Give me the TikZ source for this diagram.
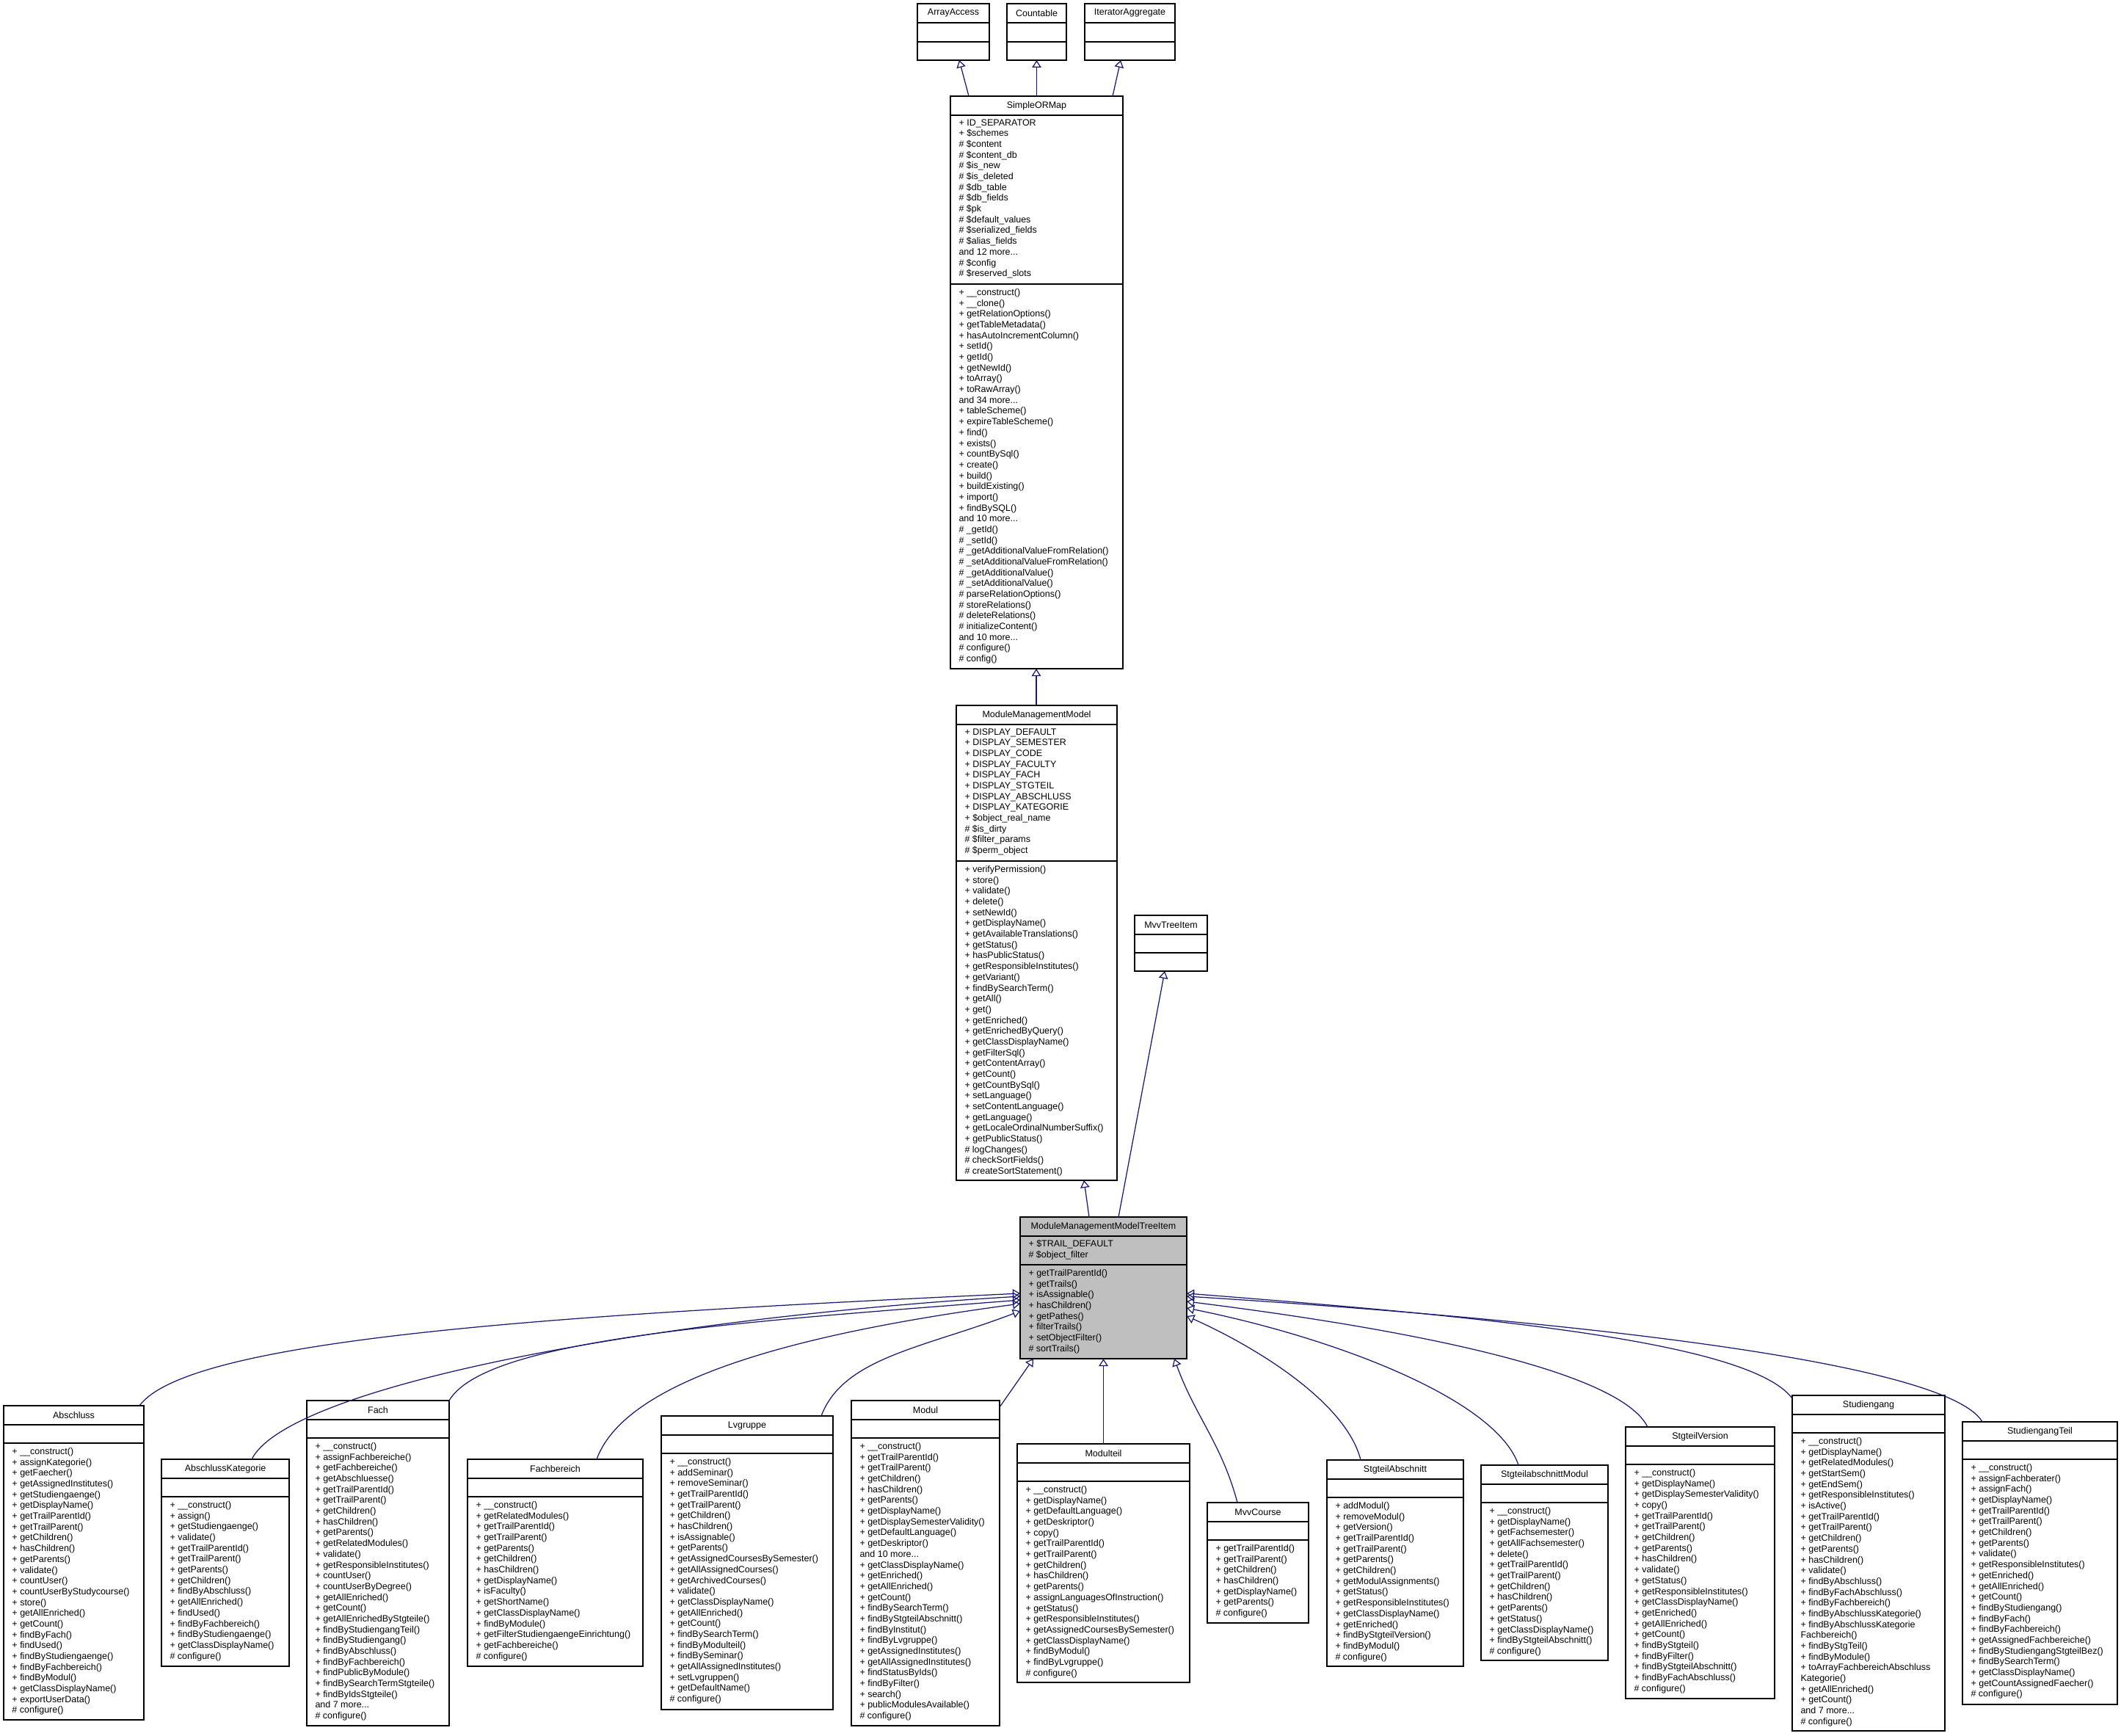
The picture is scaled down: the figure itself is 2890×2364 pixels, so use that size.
\documentclass[tikz,border=0pt]{standalone}
\usepackage{fontspec}
\setmainfont{Liberation Sans}
\usetikzlibrary{arrows.meta,calc}
\definecolor{edgeblue}{HTML}{191970}
\definecolor{hlgray}{HTML}{BFBFBF}
\tikzset{
  umlbox/.style={draw=black,line width=0.6pt,inner sep=0pt,outer sep=0pt},
  umltxt/.style={anchor=north west,align=left,inner sep=0pt,font=\fontsize{5}{5.87}\selectfont},
  umltitle/.style={inner sep=0pt,font=\fontsize{5}{5.87}\selectfont},
  inherit/.style={draw=edgeblue,line width=0.5pt,-{Triangle[open,length=4pt,width=5pt]}}
}
\newcommand\boxfill{white}
\newcommand\attrs{}
\newcommand\meths{}
% #1 name #2 x1 #3 y1 #4 x2 #5 y2 #6 y attr end #7 title
\newcommand\umlclass[7]{%
  \node[umlbox,fill=\boxfill,minimum width={(#4-#2)*0.4pt},minimum height={(#5-#3)*0.4pt},anchor=north west] (#1) at (#2,-#3) {};
  \node[umltitle] (#1-t) at ({(#2+#4)/2},{-#3-13}) {#7};
  \draw[line width=0.6pt] (#2,-#3-26) -- (#4,-#3-26);
  \draw[line width=0.6pt] (#2,-#6) -- (#4,-#6);
  \node[umltxt] (#1-a) at (#2+11,-#3-31) {\attrs};
  \node[umltxt] (#1-m) at (#2+11,-#6-6) {\meths};
}
\begin{document}
\begin{tikzpicture}[x=0.4pt,y=0.4pt]
\useasboundingbox (0,0) rectangle (2890,-2364);

\renewcommand\attrs{}\renewcommand\meths{}
\umlclass{ArrayAccess}{1250}{5}{1348}{82}{57}{ArrayAccess}
\umlclass{Countable}{1372}{5}{1453}{82}{57}{Countable}
\umlclass{IteratorAggregate}{1478}{5}{1601}{82}{57}{IteratorAggregate}
\umlclass{MvvTreeItem}{1546}{1247}{1645}{1323}{1298}{MvvTreeItem}

\renewcommand\attrs{+ ID\_SEPARATOR\\+ \$schemes\\\# \$content\\\# \$content\_db\\\# \$is\_new\\\# \$is\_deleted\\\# \$db\_table\\\# \$db\_fields\\\# \$pk\\\# \$default\_values\\\# \$serialized\_fields\\\# \$alias\_fields\\and 12 more...\\\# \$config\\\# \$reserved\_slots}
\renewcommand\meths{+ \_\_construct()\\+ \_\_clone()\\+ getRelationOptions()\\+ getTableMetadata()\\+ hasAutoIncrementColumn()\\+ setId()\\+ getId()\\+ getNewId()\\+ toArray()\\+ toRawArray()\\and 34 more...\\+ tableScheme()\\+ expireTableScheme()\\+ find()\\+ exists()\\+ countBySql()\\+ create()\\+ build()\\+ buildExisting()\\+ import()\\+ findBySQL()\\and 10 more...\\\# \_getId()\\\# \_setId()\\\# \_getAdditionalValueFromRelation()\\\# \_setAdditionalValueFromRelation()\\\# \_getAdditionalValue()\\\# \_setAdditionalValue()\\\# parseRelationOptions()\\\# storeRelations()\\\# deleteRelations()\\\# initializeContent()\\and 10 more...\\\# configure()\\\# config()}
\umlclass{SimpleORMap}{1295}{131}{1530}{911}{387}{SimpleORMap}

\renewcommand\attrs{+ DISPLAY\_DEFAULT\\+ DISPLAY\_SEMESTER\\+ DISPLAY\_CODE\\+ DISPLAY\_FACULTY\\+ DISPLAY\_FACH\\+ DISPLAY\_STGTEIL\\+ DISPLAY\_ABSCHLUSS\\+ DISPLAY\_KATEGORIE\\+ \$object\_real\_name\\\# \$is\_dirty\\\# \$filter\_params\\\# \$perm\_object}
\renewcommand\meths{+ verifyPermission()\\+ store()\\+ validate()\\+ delete()\\+ setNewId()\\+ getDisplayName()\\+ getAvailableTranslations()\\+ getStatus()\\+ hasPublicStatus()\\+ getResponsibleInstitutes()\\+ getVariant()\\+ findBySearchTerm()\\+ getAll()\\+ get()\\+ getEnriched()\\+ getEnrichedByQuery()\\+ getClassDisplayName()\\+ getFilterSql()\\+ getContentArray()\\+ getCount()\\+ getCountBySql()\\+ setLanguage()\\+ setContentLanguage()\\+ getLanguage()\\+ getLocaleOrdinalNumberSuffix()\\+ getPublicStatus()\\\# logChanges()\\\# checkSortFields()\\\# createSortStatement()}
\umlclass{ModuleManagementModel}{1303}{961}{1522}{1608}{1173}{ModuleManagementModel}

\renewcommand\boxfill{hlgray}
\renewcommand\attrs{+ \$TRAIL\_DEFAULT\\\# \$object\_filter}
\renewcommand\meths{+ getTrailParentId()\\+ getTrails()\\+ isAssignable()\\+ hasChildren()\\+ getPathes()\\+ filterTrails()\\+ setObjectFilter()\\\# sortTrails()}
\umlclass{TreeItem}{1390}{1658}{1617}{1851}{1723}{ModuleManagementModelTreeItem}
\renewcommand\boxfill{white}
\renewcommand\attrs{}

\renewcommand\meths{+ \_\_construct()\\+ assignKategorie()\\+ getFaecher()\\+ getAssignedInstitutes()\\+ getStudiengaenge()\\+ getDisplayName()\\+ getTrailParentId()\\+ getTrailParent()\\+ getChildren()\\+ hasChildren()\\+ getParents()\\+ validate()\\+ countUser()\\+ countUserByStudycourse()\\+ store()\\+ getAllEnriched()\\+ getCount()\\+ findByFach()\\+ findUsed()\\+ findByStudiengaenge()\\+ findByFachbereich()\\+ findByModul()\\+ getClassDisplayName()\\+ exportUserData()\\\# configure()}
\umlclass{Abschluss}{5}{1915}{196}{2343}{1966}{Abschluss}

\renewcommand\meths{+ \_\_construct()\\+ assign()\\+ getStudiengaenge()\\+ validate()\\+ getTrailParentId()\\+ getTrailParent()\\+ getParents()\\+ getChildren()\\+ findByAbschluss()\\+ getAllEnriched()\\+ findUsed()\\+ findByFachbereich()\\+ findByStudiengaenge()\\+ getClassDisplayName()\\\# configure()}
\umlclass{AbschlussKategorie}{220}{1988}{394}{2270}{2039}{AbschlussKategorie}

\renewcommand\meths{+ \_\_construct()\\+ assignFachbereiche()\\+ getFachbereiche()\\+ getAbschluesse()\\+ getTrailParentId()\\+ getTrailParent()\\+ getChildren()\\+ hasChildren()\\+ getParents()\\+ getRelatedModules()\\+ validate()\\+ getResponsibleInstitutes()\\+ countUser()\\+ countUserByDegree()\\+ getAllEnriched()\\+ getCount()\\+ getAllEnrichedByStgteile()\\+ findByStudiengangTeil()\\+ findByStudiengang()\\+ findByAbschluss()\\+ findByFachbereich()\\+ findPublicByModule()\\+ findBySearchTermStgteile()\\+ findByIdsStgteile()\\and 7 more...\\\# configure()}
\umlclass{Fach}{418}{1908}{612}{2351}{1959}{Fach}

\renewcommand\meths{+ \_\_construct()\\+ getRelatedModules()\\+ getTrailParentId()\\+ getTrailParent()\\+ getParents()\\+ getChildren()\\+ hasChildren()\\+ getDisplayName()\\+ isFaculty()\\+ getShortName()\\+ getClassDisplayName()\\+ findByModule()\\+ getFilterStudiengaengeEinrichtung()\\+ getFachbereiche()\\\# configure()}
\umlclass{Fachbereich}{637}{1988}{876}{2270}{2039}{Fachbereich}

\renewcommand\meths{+ \_\_construct()\\+ addSeminar()\\+ removeSeminar()\\+ getTrailParentId()\\+ getTrailParent()\\+ getChildren()\\+ hasChildren()\\+ isAssignable()\\+ getParents()\\+ getAssignedCoursesBySemester()\\+ getAllAssignedCourses()\\+ getArchivedCourses()\\+ validate()\\+ getClassDisplayName()\\+ getAllEnriched()\\+ getCount()\\+ findBySearchTerm()\\+ findByModulteil()\\+ findBySeminar()\\+ getAllAssignedInstitutes()\\+ setLvgruppen()\\+ getDefaultName()\\\# configure()}
\umlclass{Lvgruppe}{901}{1929}{1135}{2329}{1980}{Lvgruppe}

\renewcommand\meths{+ \_\_construct()\\+ getTrailParentId()\\+ getTrailParent()\\+ getChildren()\\+ hasChildren()\\+ getParents()\\+ getDisplayName()\\+ getDisplaySemesterValidity()\\+ getDefaultLanguage()\\+ getDeskriptor()\\and 10 more...\\+ getClassDisplayName()\\+ getEnriched()\\+ getAllEnriched()\\+ getCount()\\+ findBySearchTerm()\\+ findByStgteilAbschnitt()\\+ findByInstitut()\\+ findByLvgruppe()\\+ getAssignedInstitutes()\\+ getAllAssignedInstitutes()\\+ findStatusByIds()\\+ findByFilter()\\+ search()\\+ publicModulesAvailable()\\\# configure()}
\umlclass{Modul}{1160}{1908}{1362}{2351}{1959}{Modul}

\renewcommand\meths{+ \_\_construct()\\+ getDisplayName()\\+ getDefaultLanguage()\\+ getDeskriptor()\\+ copy()\\+ getTrailParentId()\\+ getTrailParent()\\+ getChildren()\\+ hasChildren()\\+ getParents()\\+ assignLanguagesOfInstruction()\\+ getStatus()\\+ getResponsibleInstitutes()\\+ getAssignedCoursesBySemester()\\+ getClassDisplayName()\\+ findByModul()\\+ findByLvgruppe()\\\# configure()}
\umlclass{Modulteil}{1386}{1967}{1621}{2292}{2018}{Modulteil}

\renewcommand\meths{+ getTrailParentId()\\+ getTrailParent()\\+ getChildren()\\+ hasChildren()\\+ getDisplayName()\\+ getParents()\\\# configure()}
\umlclass{MvvCourse}{1645}{2047}{1783}{2211}{2098}{MvvCourse}

\renewcommand\meths{+ addModul()\\+ removeModul()\\+ getVersion()\\+ getTrailParentId()\\+ getTrailParent()\\+ getParents()\\+ getChildren()\\+ getModulAssignments()\\+ getStatus()\\+ getResponsibleInstitutes()\\+ getClassDisplayName()\\+ getEnriched()\\+ findByStgteilVersion()\\+ findByModul()\\\# configure()}
\umlclass{StgteilAbschnitt}{1808}{1989}{1994}{2270}{2040}{StgteilAbschnitt}

\renewcommand\meths{+ \_\_construct()\\+ getDisplayName()\\+ getFachsemester()\\+ getAllFachsemester()\\+ delete()\\+ getTrailParentId()\\+ getTrailParent()\\+ getChildren()\\+ hasChildren()\\+ getParents()\\+ getStatus()\\+ getClassDisplayName()\\+ findByStgteilAbschnitt()\\\# configure()}
\umlclass{StgteilabschnittModul}{2018}{1996}{2191}{2262}{2047}{StgteilabschnittModul}

\renewcommand\meths{+ \_\_construct()\\+ getDisplayName()\\+ getDisplaySemesterValidity()\\+ copy()\\+ getTrailParentId()\\+ getTrailParent()\\+ getChildren()\\+ getParents()\\+ hasChildren()\\+ validate()\\+ getStatus()\\+ getResponsibleInstitutes()\\+ getClassDisplayName()\\+ getEnriched()\\+ getAllEnriched()\\+ getCount()\\+ findByStgteil()\\+ findByFilter()\\+ findByStgteilAbschnitt()\\+ findByFachAbschluss()\\\# configure()}
\umlclass{StgteilVersion}{2215}{1944}{2418}{2314}{1995}{StgteilVersion}

\renewcommand\meths{+ \_\_construct()\\+ getDisplayName()\\+ getRelatedModules()\\+ getStartSem()\\+ getEndSem()\\+ getResponsibleInstitutes()\\+ isActive()\\+ getTrailParentId()\\+ getTrailParent()\\+ getChildren()\\+ getParents()\\+ hasChildren()\\+ validate()\\+ findByAbschluss()\\+ findByFachAbschluss()\\+ findByFachbereich()\\+ findByAbschlussKategorie()\\+ findByAbschlussKategorie\\Fachbereich()\\+ findByStgTeil()\\+ findByModule()\\+ toArrayFachbereichAbschluss\\Kategorie()\\+ getAllEnriched()\\+ getCount()\\and 7 more...\\\# configure()}
\umlclass{Studiengang}{2442}{1901}{2650}{2358}{1952}{Studiengang}

\renewcommand\meths{+ \_\_construct()\\+ assignFachberater()\\+ assignFach()\\+ getDisplayName()\\+ getTrailParentId()\\+ getTrailParent()\\+ getChildren()\\+ getParents()\\+ validate()\\+ getResponsibleInstitutes()\\+ getEnriched()\\+ getAllEnriched()\\+ getCount()\\+ findByStudiengang()\\+ findByFach()\\+ findByFachbereich()\\+ getAssignedFachbereiche()\\+ findByStudiengangStgteilBez()\\+ findBySearchTerm()\\+ getClassDisplayName()\\+ getCountAssignedFaecher()\\\# configure()}
\umlclass{StudiengangTeil}{2674}{1937}{2885}{2322}{1988}{StudiengangTeil}

% upper inheritance
\draw[inherit] ([xshift=25*0.4pt]SimpleORMap.north west) -- ([xshift=-41*0.4pt]ArrayAccess.south east);
\draw[inherit] (SimpleORMap.north west -| Countable.south) -- (Countable.south);
\draw[inherit] ([xshift=-14*0.4pt]SimpleORMap.north east) -- ([xshift=-74*0.4pt]IteratorAggregate.south east);
\draw[inherit] ([xshift=109*0.4pt]ModuleManagementModel.north west) -- ([xshift=117*0.4pt]SimpleORMap.south west);
\draw[inherit] ([xshift=94*0.4pt]TreeItem.north west) -- ([xshift=174*0.4pt]ModuleManagementModel.south west);
\draw[inherit] ([xshift=134*0.4pt]TreeItem.north west) -- ([xshift=41*0.4pt]MvvTreeItem.south west);

% fan to children
\coordinate (L1) at ($(TreeItem.north west)+(0,-104)$);
\coordinate (L2) at ($(TreeItem.north west)+(0,-108)$);
\coordinate (L3) at ($(TreeItem.north west)+(0,-113)$);
\coordinate (L4) at ($(TreeItem.north west)+(0,-118)$);
\coordinate (L5) at ($(TreeItem.north west)+(0,-128)$);
\coordinate (R1) at ($(TreeItem.north east)+(0,-104)$);
\coordinate (R2) at ($(TreeItem.north east)+(0,-108)$);
\coordinate (R3) at ($(TreeItem.north east)+(0,-115)$);
\coordinate (R4) at ($(TreeItem.north east)+(0,-124)$);
\coordinate (R5) at ($(TreeItem.north east)+(0,-135)$);
\coordinate (sAbs) at ([xshift=185*0.4pt]Abschluss.north west);
\coordinate (sAK) at ([xshift=123*0.4pt]AbschlussKategorie.north west);
\coordinate (sFach) at (Fach.north east);
\coordinate (sFB) at ([xshift=176*0.4pt]Fachbereich.north west);
\coordinate (sLv) at ([xshift=218*0.4pt]Lvgruppe.north west);
\coordinate (sSA) at ([xshift=46*0.4pt]StgteilAbschnitt.north west);
\coordinate (sSAM) at ([xshift=51*0.4pt]StgteilabschnittModul.north west);
\coordinate (sSV) at ([xshift=30*0.4pt]StgteilVersion.north west);
\coordinate (sSG) at ([yshift=-4*0.4pt]Studiengang.north west);
\coordinate (sST) at ([xshift=27*0.4pt]StudiengangTeil.north west);
\draw[inherit] (sAbs) .. controls ($(sAbs)+(70,95)$) and ($(L1)+(-590,-28)$) .. (L1);
\draw[inherit] (sAK) .. controls ($(sAK)+(50,100)$) and ($(L2)+(-500,-30)$) .. (L2);
\draw[inherit] (sFach) .. controls ($(sFach)+(50,85)$) and ($(L3)+(-380,-30)$) .. (L3);
\draw[inherit] (sFB) .. controls ($(sFB)+(40,110)$) and ($(L4)+(-300,-40)$) .. (L4);
\draw[inherit] (sLv) .. controls ($(sLv)+(30,80)$) and ($(L5)+(-130,-50)$) .. (L5);
\draw[inherit] ([yshift=-9*0.4pt]Modul.north east) -- ([xshift=18*0.4pt]TreeItem.south west);
\draw[inherit] (Modulteil.north -| TreeItem.south) -- (TreeItem.south);
\draw[inherit] ([xshift=41*0.4pt]MvvCourse.north west) to[out=105,in=-70] ([xshift=-17*0.4pt]TreeItem.south east);
\draw[inherit] (sSA) .. controls ($(sSA)+(-20,80)$) and ($(R5)+(90,-40)$) .. (R5);
\draw[inherit] (sSAM) .. controls ($(sSAM)+(-30,90)$) and ($(R4)+(200,-40)$) .. (R4);
\draw[inherit] (sSV) .. controls ($(sSV)+(-40,80)$) and ($(R3)+(280,-35)$) .. (R3);
\draw[inherit] (sSG) .. controls ($(sSG)+(-60,80)$) and ($(R1)+(380,-30)$) .. (R1);
\draw[inherit] (sST) .. controls ($(sST)+(-50,85)$) and ($(R2)+(480,-30)$) .. (R2);
\end{tikzpicture}
\end{document}
